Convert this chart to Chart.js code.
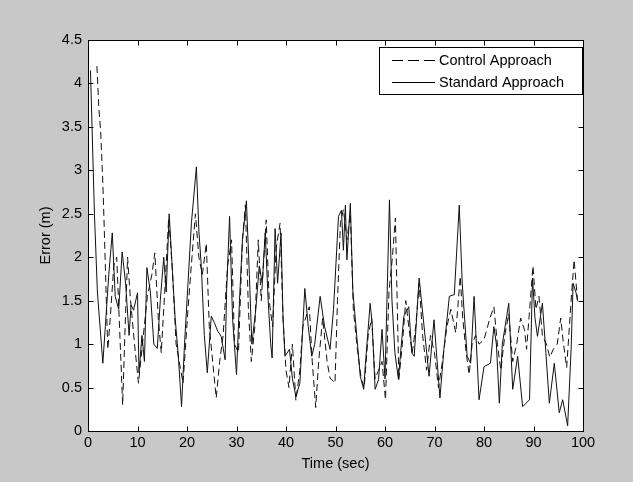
<!DOCTYPE html>
<html>
<head>
<meta charset="utf-8">
<script src="https://cdn.jsdelivr.net/npm/chart.js@4.4.0/dist/chart.umd.min.js"></script>
<style>
  html, body { margin: 0; padding: 0; background: #c8c8c8; }
</style>
</head>
<body>
<canvas id="myChart" width="633" height="482"></canvas>
<script>
// Standard approach (solid line): time (sec) and error (m)
var standardTime = [
  0.5, 1.3, 1.9, 3.0, 3.5, 4.2, 4.9, 5.5, 6.2, 6.9,
  7.6, 8.3, 8.7, 9.2, 10.0, 10.3, 10.9, 11.4, 11.9, 12.6,
  13.3, 14.0, 14.6, 15.3, 15.8, 16.4, 17.0, 17.6, 18.2, 18.9,
  19.5, 20.2, 20.9, 21.9, 22.4, 22.9, 23.5, 24.1, 24.9, 25.5,
  26.2, 26.9, 27.7, 28.0, 28.6, 29.2, 30.0, 30.6, 31.2, 32.0,
  32.6, 33.1, 33.9, 34.6, 35.2, 35.8, 36.4, 36.9, 37.2, 37.8,
  38.3, 39.0, 39.4, 39.8, 40.7, 41.3, 42.0, 42.8, 43.8, 44.5,
  45.2, 45.8, 46.9, 47.8, 48.9, 49.6, 50.6, 51.2, 51.6, 52.0,
  52.3, 53.0, 53.5, 54.3, 55.0, 55.7, 56.0, 57.0, 57.4, 58.0,
  58.7, 59.4, 60.0, 60.9, 61.4, 62.0, 62.7, 63.8, 64.8, 65.4,
  65.9, 66.9, 67.9, 68.9, 69.9, 70.4, 71.1, 71.9, 73.0, 74.0,
  75.0, 75.6, 76.6, 77.3, 78.0, 79.0, 80.0, 81.3, 82.0, 82.5,
  83.1, 83.7, 85.0, 85.8, 86.8, 87.8, 89.2, 89.8, 90.3, 90.8,
  91.8, 92.5, 93.2, 94.2, 95.2, 95.9, 96.9, 97.6, 98.0, 98.6,
  98.9
];
var standardError = [
  4.15, 2.5, 1.6, 0.78, 1.2, 1.8, 2.28, 1.55, 1.4, 2.06,
  1.7, 1.1, 1.45, 1.39, 1.59, 0.67, 1.1, 0.8, 1.88, 1.6,
  1.0, 0.95, 1.5, 2.0, 1.6, 2.5, 1.9, 1.3, 0.9, 0.28,
  1.0, 1.7, 2.4, 3.04, 2.3, 1.89, 1.1, 0.67, 1.32, 1.25,
  1.15, 1.09, 0.82, 1.6, 2.47, 1.3, 0.65, 1.5, 2.2, 2.65,
  1.8, 1.0, 1.4, 1.9, 1.7, 2.28, 1.5, 1.01, 0.84, 2.33,
  1.7, 2.28, 1.3, 0.86, 0.94, 0.6, 0.4, 0.55, 1.64, 1.2,
  0.86, 1.0, 1.55, 1.2, 0.94, 1.4, 2.47, 2.54, 2.08, 2.6,
  1.97, 2.62, 1.62, 1.09, 0.63, 0.48, 0.74, 1.47, 1.24, 0.48,
  0.59, 1.17, 0.6, 2.66, 1.51, 0.9, 0.6, 1.32, 1.43, 0.9,
  0.86, 1.76, 1.2, 0.63, 1.28, 0.9, 0.38, 0.94, 1.55, 1.57,
  2.6, 1.7, 0.86, 0.78, 1.55, 0.36, 0.74, 0.78, 1.2, 1.0,
  0.32, 1.0, 1.47, 0.48, 0.86, 0.28, 0.36, 1.76, 1.3, 1.09,
  1.47, 0.9, 0.32, 0.78, 0.21, 0.36, 0.06, 0.94, 1.7, 1.59,
  1.5
];

// Control approach (dashed line)
var controlTime = [
  1.8, 2.2, 2.55, 3.0, 3.3, 3.7, 4.0, 4.5, 5.2, 5.8,
  6.3, 7.0, 7.5, 8.0, 8.6, 9.4, 10.2, 11.0, 12.0, 12.9,
  13.5, 14.2, 14.8, 15.5, 16.3, 17.0, 17.8, 19.2, 20.2, 21.0,
  21.7, 22.4, 23.1, 23.9, 24.5, 25.9, 26.6, 27.3, 28.2, 29.0,
  29.6, 30.4, 31.2, 31.8, 32.4, 33.0, 33.7, 34.4, 35.0, 36.0,
  36.6, 37.3, 38.0, 38.8, 39.4, 40.0, 40.6, 41.3, 42.0, 42.8,
  43.4, 44.7, 45.3, 46.0, 46.6, 47.4, 48.3, 48.9, 49.9, 50.4,
  51.0, 51.6, 52.3, 53.0, 53.6, 54.4, 55.2, 55.8, 56.6, 57.3,
  58.0, 58.7, 59.4, 60.1, 60.8, 61.5, 62.1, 62.8, 63.5, 64.2,
  64.8, 65.5, 66.2, 66.9, 67.6, 68.4, 69.2, 70.0, 70.8, 71.6,
  72.5, 73.3, 74.3, 75.2, 75.7, 76.4, 77.0, 77.6, 78.3, 79.0,
  80.0, 81.2, 82.0, 82.7, 83.4, 84.2, 85.0, 85.8, 86.6, 87.4,
  88.2, 88.6, 89.9, 90.5, 91.1, 91.8, 92.6, 93.3, 94.0, 94.8,
  95.5, 96.0, 96.7, 97.6, 98.2, 98.9
];
var controlError = [
  4.2, 3.71, 3.46, 2.85, 2.3, 1.5, 0.94, 1.3, 1.9, 2.0,
  1.3, 0.3, 1.2, 2.0, 1.5, 1.0, 0.55, 1.0, 1.55, 1.8,
  2.05, 1.3, 0.9, 1.6, 2.45, 1.9, 1.0, 0.55, 1.4, 2.0,
  2.5, 2.0, 1.8, 2.16, 1.2, 0.38, 0.8, 1.1, 1.9, 2.2,
  1.0, 0.9, 2.2, 2.6, 1.4, 0.8, 1.2, 2.2, 1.5, 2.43,
  1.5, 1.2, 2.1, 2.39, 1.3, 0.7, 0.5, 1.0, 0.35, 0.7,
  1.2, 1.43, 0.8, 0.27, 0.8, 1.3, 0.8, 0.61, 0.55, 1.5,
  2.4, 2.55, 2.2, 2.5, 1.4, 0.95, 0.6, 0.5, 1.1, 1.3,
  0.6, 0.7, 0.8, 0.36, 1.6, 2.0, 2.45, 0.59, 1.0, 1.5,
  1.2, 0.9, 1.2, 1.7, 1.1, 0.7, 1.1, 0.9, 0.5, 0.8,
  1.2, 1.4, 1.13, 1.78, 1.3, 0.9, 0.65, 1.0, 1.1, 1.0,
  1.05, 1.3, 1.43, 1.0, 0.7, 1.1, 1.35, 0.8, 1.0, 1.3,
  1.16, 0.94, 1.9, 1.4, 1.55, 1.1, 1.0, 0.85, 0.94, 1.0,
  1.3, 1.03, 0.73, 1.5, 1.97, 1.5
];

var xTicks = [0, 10, 20, 30, 40, 50, 60, 70, 80, 90, 100];
var yTicks = [0, 0.5, 1, 1.5, 2, 2.5, 3, 3.5, 4, 4.5];
var seriesNames = ['Control Approach', 'Standard Approach'];

function toPoints(times, values) {
  return times.map(function (t, i) { return { x: t, y: values[i] }; });
}

Chart.defaults.font.family = "'Liberation Sans', Arial, sans-serif";
Chart.defaults.font.size = 14.5;
Chart.defaults.color = '#000';

// MATLAB look: white axes box, inward ticks on all sides, boxed legend
var matlabFrame = {
  id: 'matlabFrame',
  beforeDraw: function (chart) {
    var ctx = chart.ctx, a = chart.chartArea;
    ctx.save();
    ctx.fillStyle = '#ffffff';
    ctx.fillRect(a.left, a.top, a.right - a.left, a.bottom - a.top);
    ctx.restore();
  },
  afterDraw: function (chart) {
    var ctx = chart.ctx, a = chart.chartArea;
    var xs = chart.scales.x, ys = chart.scales.y;
    var tick = 5;
    ctx.save();
    ctx.strokeStyle = '#000';
    ctx.lineWidth = 1;
    ctx.setLineDash([]);
    var l = Math.round(a.left) + 0.5, r = Math.round(a.right) + 0.5;
    var t = Math.round(a.top) + 0.5, b = Math.round(a.bottom) + 0.5;
    ctx.strokeRect(l, t, r - l, b - t);
    ctx.beginPath();
    xTicks.forEach(function (v) {
      var px = Math.round(xs.getPixelForValue(v)) + 0.5;
      ctx.moveTo(px, b); ctx.lineTo(px, b - tick);
      ctx.moveTo(px, t); ctx.lineTo(px, t + tick);
    });
    yTicks.forEach(function (v) {
      var py = Math.round(ys.getPixelForValue(v)) + 0.5;
      ctx.moveTo(l, py); ctx.lineTo(l + tick, py);
      ctx.moveTo(r, py); ctx.lineTo(r - tick, py);
    });
    ctx.stroke();

    // legend box
    var lx = 379.5, ly = 47.5, lw = 203, lh = 47;
    ctx.fillStyle = '#ffffff';
    ctx.fillRect(lx, ly, lw, lh);
    ctx.strokeRect(lx, ly, lw, lh);
    ctx.font = '14.5px ' + Chart.defaults.font.family;
    ctx.fillStyle = '#000';
    ctx.textBaseline = 'middle';
    chart.data.datasets.forEach(function (ds, i) {
      var rowY = 60.5 + i * 22;
      ctx.beginPath();
      ctx.setLineDash(i === 0 ? [11, 5] : []);
      ctx.moveTo(392, rowY);
      ctx.lineTo(435, rowY);
      ctx.stroke();
      ctx.fillText(ds.label, 439, rowY);
    });
    ctx.restore();
  }
};

var ctx = document.getElementById('myChart').getContext('2d');
var chart = new Chart(ctx, {
  type: 'line',
  data: {
    datasets: [{
      label: seriesNames[0],
      data: toPoints(controlTime, controlError),
      borderColor: '#111',
      borderWidth: 1,
      borderDash: [7, 4],
      pointRadius: 0,
      fill: false,
      tension: 0
    }, {
      label: seriesNames[1],
      data: toPoints(standardTime, standardError),
      borderColor: '#111',
      borderWidth: 1,
      pointRadius: 0,
      fill: false,
      tension: 0
    }]
  },
  options: {
    responsive: false,
    animation: false,
    events: [],
    layout: { padding: { top: 40, right: 50, bottom: 0, left: 0 } },
    plugins: {
      legend: { display: false },
      tooltip: { enabled: false }
    },
    scales: {
      x: {
        type: 'linear',
        min: 0,
        max: 100,
        afterBuildTicks: function (s) { s.ticks = xTicks.map(function (v) { return { value: v }; }); },
        afterFit: function (s) { s.height = 51; },
        grid: { display: false, drawTicks: false },
        border: { display: false },
        ticks: { padding: 3, maxRotation: 0, callback: function (v) { return String(v); } },
        title: { display: true, text: 'Time (sec)', padding: { top: 0, bottom: 9 } }
      },
      y: {
        type: 'linear',
        min: 0,
        max: 4.5,
        afterBuildTicks: function (s) { s.ticks = yTicks.map(function (v) { return { value: v }; }); },
        afterFit: function (s) { s.width = 88; },
        grid: { display: false, drawTicks: false },
        border: { display: false },
        ticks: { padding: 6, callback: function (v) { return String(v); } },
        title: { display: true, text: 'Error (m)', padding: { top: 37, bottom: 0 } }
      }
    }
  },
  plugins: [matlabFrame]
});
</script>
</body>
</html>
